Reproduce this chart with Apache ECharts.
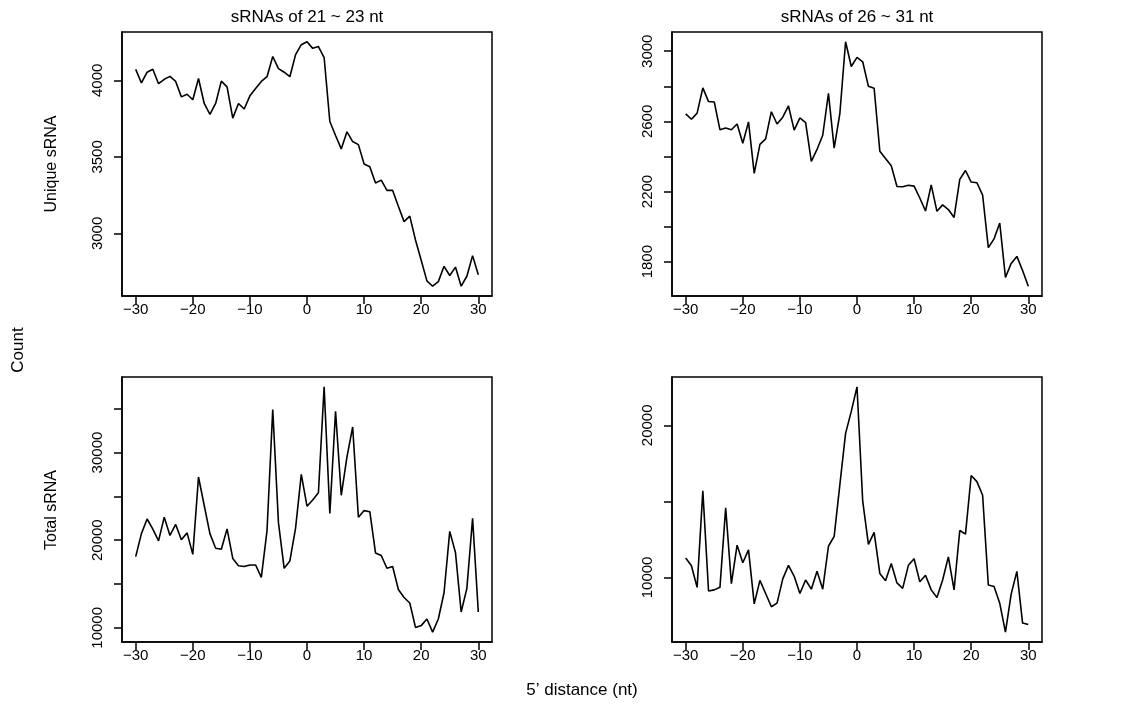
<!DOCTYPE html>
<html>
<head>
<meta charset="utf-8">
<script src="https://cdn.jsdelivr.net/npm/echarts@6/dist/echarts.min.js"></script>
<style>
  html, body { margin: 0; padding: 0; background: #fff; }
  #chart { width: 1140px; height: 717px; }
</style>
</head>
<body>
<div id="chart"></div>
<script>
// 5' distance positions (nt)
var distance = [];
for (var d = -30; d <= 30; d++) distance.push(d);

// unique sRNA, 21-23 nt
var unique_short = [
  4072, 3983, 4053, 4072, 3978, 4007, 4026, 3993, 3892, 3909,
  3873, 4012, 3849, 3777, 3849, 3995, 3957, 3753, 3849, 3813,
  3899, 3947, 3993, 4024, 4156, 4077, 4053, 4024, 4168, 4233,
  4252, 4209, 4221, 4149, 3731, 3640, 3552, 3664, 3600, 3580,
  3453, 3436, 3329, 3348, 3281, 3281, 3177, 3077, 3113, 2957,
  2825, 2690, 2655, 2685, 2785, 2725, 2780, 2655, 2720, 2855,
  2730
];

// unique sRNA, 26-31 nt
var unique_long = [
  2643, 2612, 2647, 2791, 2713, 2711, 2552, 2562, 2552, 2585,
  2475, 2597, 2304, 2469, 2500, 2655, 2585, 2624, 2688, 2550,
  2620, 2593, 2372, 2440, 2521, 2760, 2448, 2645, 3054, 2913,
  2965, 2940, 2800, 2789, 2430, 2388, 2347, 2229, 2227, 2236,
  2231, 2163, 2089, 2238, 2087, 2124, 2097, 2052, 2269, 2320,
  2254, 2250, 2180, 1880, 1930, 2020, 1710, 1790, 1830, 1750,
  1660
];

// total sRNA, 21-23 nt
var total_short = [
  18125, 20750, 22417, 21250, 19917, 22625, 20542, 21792, 20042, 20833,
  18375, 27208, 23958, 20750, 19083, 18958, 21292, 17917, 17083, 17000,
  17167, 17167, 15750, 21100, 34917, 22000, 16792, 17625, 21375, 27500,
  23875, 24583, 25417, 37500, 23042, 34708, 25125, 29500, 32917, 22625,
  23375, 23250, 18542, 18250, 16792, 17000, 14375, 13458, 12833, 10042,
  10250, 11000, 9500, 11000, 14000, 21000, 18600, 11800, 14500, 22500,
  11800
];

// total sRNA, 26-31 nt
var total_long = [
  11277, 10771, 9349, 15688, 9108, 9181, 9349, 14579, 9590, 12121,
  10964, 11808, 8265, 9807, 8940, 8072, 8313, 9904, 10795, 10072,
  8940, 9831, 9229, 10410, 9229, 12049, 12699, 16097, 19471, 20917,
  22532, 15013, 12169, 12964, 10265, 9783, 10916, 9639, 9277, 10795,
  11229, 9711, 10145, 9181, 8675, 9831, 11350, 9181, 13085, 12844,
  16700, 16300, 15400, 9500, 9400, 8300, 6400, 8900, 10400, 7000,
  6900
];

// axis ticks and labels
var x_ticks = [-30, -20, -10, 0, 10, 20, 30];
var y_ticks_1 = [3000, 3500, 4000];
var y_labels_1 = [3000, 3500, 4000];
var y_ticks_2 = [1800, 2000, 2200, 2400, 2600, 2800, 3000];
var y_labels_2 = [1800, 2200, 2600, 3000];
var y_ticks_3 = [10000, 15000, 20000, 25000, 30000, 35000];
var y_labels_3 = [10000, 20000, 30000];
var y_ticks_4 = [10000, 15000, 20000];
var y_labels_4 = [10000, 20000];

var titles = ['sRNAs of 21 ~ 23 nt', 'sRNAs of 26 ~ 31 nt'];

var FONT = '"Liberation Sans", Arial, Helvetica, sans-serif';

function pairs(ys) {
  return distance.map(function (x, i) { return [x, ys[i]]; });
}

// R style 4% padding of the data range
function padMin(v) { return v.min - (v.max - v.min) * 0.04; }
function padMax(v) { return v.max + (v.max - v.min) * 0.04; }

function plain(v) { return String(v).replace('-', '\u2212'); }

var grids = [
  { left: 122, top: 32, width: 370, height: 264 },
  { left: 672, top: 32, width: 370, height: 264 },
  { left: 122, top: 377, width: 370, height: 265 },
  { left: 672, top: 377, width: 370, height: 265 }
];

var yTicks = [y_ticks_1, y_ticks_2, y_ticks_3, y_ticks_4];
var yLabels = [y_labels_1, y_labels_2, y_labels_3, y_labels_4];
var seriesData = [unique_short, unique_long, total_short, total_long];

var axisLineStyle = { show: true, onZero: false, lineStyle: { color: '#000', width: 1.5 } };

var option = {
  animation: false,
  backgroundColor: '#fff',
  grid: grids.map(function (g) {
    return {
      left: g.left, top: g.top, width: g.width, height: g.height,
      show: true, borderColor: '#000', borderWidth: 1.5, backgroundColor: 'transparent'
    };
  }),
  xAxis: grids.map(function (g, i) {
    return {
      type: 'value',
      gridIndex: i,
      position: 'bottom',
      min: padMin,
      max: padMax,
      splitLine: { show: false },
      axisLine: axisLineStyle,
      axisTick: { show: true, inside: false, length: 8, customValues: x_ticks, lineStyle: { color: '#000', width: 1.5 } },
      axisLabel: {
        customValues: x_ticks, margin: 6, color: '#000', fontSize: 15, fontFamily: FONT,
        formatter: plain
      }
    };
  }),
  yAxis: grids.map(function (g, i) {
    return {
      type: 'value',
      gridIndex: i,
      position: 'left',
      min: padMin,
      max: padMax,
      splitLine: { show: false },
      axisLine: axisLineStyle,
      axisTick: { show: true, inside: false, length: 8, customValues: yTicks[i], lineStyle: { color: '#000', width: 1.5 } },
      axisLabel: {
        customValues: yLabels[i], margin: 17, rotate: 90, color: '#000', fontSize: 15, fontFamily: FONT,
        formatter: plain
      }
    };
  }),
  series: seriesData.map(function (ys, i) {
    return {
      type: 'line',
      xAxisIndex: i,
      yAxisIndex: i,
      data: pairs(ys),
      showSymbol: false,
      symbol: 'none',
      lineStyle: { color: '#000', width: 1.6 }
    };
  }),
  graphic: [
    { type: 'text', x: 307, y: 17, style: { text: titles[0], align: 'center', verticalAlign: 'middle', font: '17px ' + FONT, fill: '#000' } },
    { type: 'text', x: 857, y: 17, style: { text: titles[1], align: 'center', verticalAlign: 'middle', font: '17px ' + FONT, fill: '#000' } },
    { type: 'text', x: 52, y: 164, rotation: Math.PI / 2, style: { text: 'Unique sRNA', align: 'center', verticalAlign: 'middle', font: '16px ' + FONT, fill: '#000' } },
    { type: 'text', x: 52, y: 510, rotation: Math.PI / 2, style: { text: 'Total sRNA', align: 'center', verticalAlign: 'middle', font: '16px ' + FONT, fill: '#000' } },
    { type: 'text', x: 18, y: 350, rotation: Math.PI / 2, style: { text: 'Count', align: 'center', verticalAlign: 'middle', font: '17px ' + FONT, fill: '#000' } },
    { type: 'text', x: 582, y: 690, style: { text: '5\u2019 distance (nt)', align: 'center', verticalAlign: 'middle', font: '17px ' + FONT, fill: '#000' } }
  ]
};

var myChart = echarts.init(document.getElementById('chart'));
myChart.setOption(option);
</script>
</body>
</html>
